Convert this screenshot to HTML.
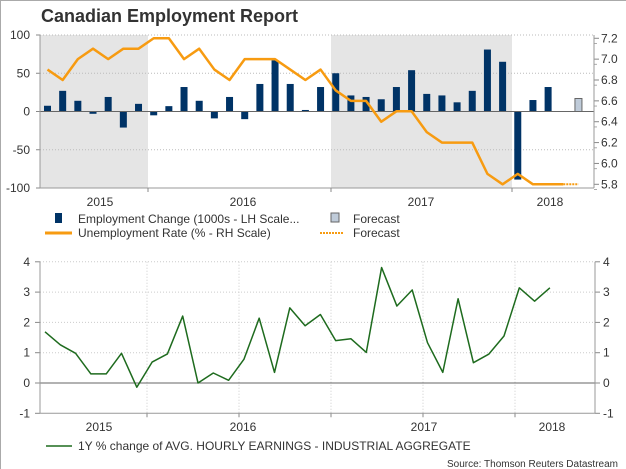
<!DOCTYPE html>
<html><head><meta charset="utf-8"><style>
body{margin:0;background:#fff}
svg{display:block;font-family:"Liberation Sans",Arial,sans-serif}
</style></head><body>
<svg id="c" width="626" height="469" viewBox="0 0 626 469">
<rect x="0" y="0" width="626" height="469" fill="#fff"/>
<line x1="0.5" y1="0" x2="0.5" y2="469" stroke="#aaa"/>
<line x1="0" y1="0.5" x2="626" y2="0.5" stroke="#aaa"/>
<text x="41" y="22" font-size="18" font-weight="bold" fill="#333">Canadian Employment Report</text>
<g id="topg"></g>
<g id="botg"></g>
<g>
<rect x="55" y="213" width="7" height="10" fill="#003366"/>
<text x="78" y="223" font-size="12" fill="#333">Employment Change (1000s - LH Scale...</text>
<rect x="331" y="213" width="8" height="9" fill="#bfcbd9" stroke="#666"/>
<text x="353" y="223" font-size="12" fill="#333">Forecast</text>
<line x1="45" y1="233" x2="72" y2="233" stroke="#f79b11" stroke-width="3"/>
<text x="78" y="237" font-size="12" fill="#333">Unemployment Rate (% - RH Scale)</text>
<line x1="320" y1="233" x2="343" y2="233" stroke="#f79b11" stroke-width="2" stroke-dasharray="2,1"/>
<text x="353" y="237" font-size="12" fill="#333">Forecast</text>
</g>
<g>
<line x1="46" y1="446" x2="72" y2="446" stroke="#1e6b1e" stroke-width="1.5"/>
<text x="78" y="450" font-size="12" fill="#333">1Y % change of AVG. HOURLY EARNINGS - INDUSTRIAL AGGREGATE</text>
</g>
<text x="618" y="467" font-size="10" fill="#333" text-anchor="end">Source: Thomson Reuters Datastream</text>
</svg>
<script>
const employment=[7.5,27,14,-3,19,-21,10,-5,7,32,14,-9,19,-10,36,67,36,2,32,50,21,19,16,32,54,23,21,12,27,81,65,-89,15,32,null];
const forecastIndex=35;
const forecastValue=17;
const unemployment=[6.9,6.8,7.0,7.1,7.0,7.1,7.1,7.2,7.2,7.0,7.1,6.9,6.8,7.0,7.0,7.0,6.9,6.8,6.9,6.7,6.6,6.6,6.4,6.5,6.5,6.3,6.2,6.2,6.2,5.9,5.8,5.9,5.8,5.8,5.8];
const unemploymentForecast=[5.8,5.8];
const earnings=[1.69,1.26,0.98,0.30,0.30,0.98,-0.14,0.69,0.96,2.21,0,0.33,0.09,0.78,2.14,0.35,2.48,1.89,2.26,1.40,1.46,1.01,3.81,2.54,3.07,1.33,0.35,2.78,0.67,0.95,1.55,3.14,2.70,3.14];
const leftTicks=[100,50,0,-50,-100];
const rightTicks=[7.2,7.0,6.8,6.6,6.4,6.2,6.0,5.8];
const botTicks=[4,3,2,1,0,-1];
const yearLabels=["2015","2016","2017","2018"];

const NS="http://www.w3.org/2000/svg";
function mk(p,t,a){const e=document.createElementNS(NS,t);for(const k in a)e.setAttribute(k,a[k]);p.appendChild(e);return e;}
const topG=document.getElementById('topg'),botG=document.getElementById('botg');
const xT=i=>47.5+15.17*i;
const yL=v=>111.5-v*0.765;
const yR=v=>184.3-(v-5.8)*104.3;
const xB=i=>45+15.3*i;
const yB=v=>383-v*30.3;
const X0=40,X1=594;
[[40,148],[331,512]].forEach(s=>{const r=mk(topG,'rect',{x:s[0],y:35,width:s[1]-s[0],height:153,fill:'#e5e5e5'});

});
leftTicks.forEach(v=>{
 if(v!==0&&v!==-100){const g=mk(topG,'line',{x1:X0,x2:X1,y1:yL(v),y2:yL(v),stroke:'#bbb','stroke-dasharray':'1,2'});
 
 }
 const t=mk(topG,'text',{x:30,y:yL(v)+4,'font-size':12,fill:'#333','text-anchor':'end'});t.textContent=v;
 
 
 mk(topG,'line',{x1:36,x2:40,y1:yL(v),y2:yL(v),stroke:'#888'});
});
rightTicks.forEach(v=>{
 const t=mk(topG,'text',{x:601,y:yR(v)+4,'font-size':12,fill:'#333'});t.textContent=v.toFixed(1);
 
 
 mk(topG,'line',{x1:594,x2:599,y1:yR(v),y2:yR(v),stroke:'#888'});
 mk(topG,'line',{x1:594,x2:597,y1:yR(v)+5.2,y2:yR(v)+5.2,stroke:'#aaa'});
});
employment.forEach((v,i)=>{if(v===null)return;
 const b=mk(topG,'rect',{x:xT(i)-3.5,y:Math.min(yL(v),yL(0)),width:7,height:Math.abs(yL(v)-yL(0)),fill:'#003366'});
 
 
});
const fb=mk(topG,'rect',{x:xT(forecastIndex)-3.5,y:yL(forecastValue),width:7,height:yL(0)-yL(forecastValue),fill:'#bfcbd9',stroke:'#666'});


mk(topG,'line',{x1:X0,x2:X1,y1:yL(0),y2:yL(0),stroke:'#666'});
mk(topG,'line',{x1:X0,x2:X0,y1:35,y2:188,stroke:'#999'});
mk(topG,'line',{x1:X1,x2:X1,y1:35,y2:188,stroke:'#999'});
mk(topG,'line',{x1:X0,x2:X1,y1:188,y2:188,stroke:'#999'});
[148,331,512].forEach(x=>mk(topG,'line',{x1:x,x2:x,y1:188,y2:192,stroke:'#888'}));
const ul=mk(topG,'polyline',{points:unemployment.map((v,i)=>xT(i)+','+yR(v)).join(' '),fill:'none',stroke:'#f79b11','stroke-width':2.5,'stroke-linejoin':'round'});


const uf=mk(topG,'polyline',{points:unemploymentForecast.map((v,i)=>xT(unemployment.length-1+i)+','+yR(v)).join(' '),fill:'none',stroke:'#f79b11','stroke-width':2,'stroke-dasharray':'2,1'});


yearLabels.forEach((y,k)=>{const t=mk(topG,'text',{x:[100,243,421,550][k],y:206,'font-size':12,fill:'#333','text-anchor':'middle'});t.textContent=y;
 
 });
const BX0=40,BX1=595;
botTicks.forEach(v=>{
 if(v>0){const g=mk(botG,'line',{x1:BX0,x2:BX1,y1:yB(v),y2:yB(v),stroke:'#ccc','stroke-dasharray':'1,2'});
 
 }
 const t=mk(botG,'text',{x:30,y:yB(v)+4,'font-size':12,fill:'#333','text-anchor':'end'});t.textContent=v;
 
 
 const t2=mk(botG,'text',{x:603,y:yB(v)+4,'font-size':12,fill:'#333'});t2.textContent=v;
 
 
 mk(botG,'line',{x1:35,x2:40,y1:yB(v),y2:yB(v),stroke:'#888'});
 mk(botG,'line',{x1:595,x2:600,y1:yB(v),y2:yB(v),stroke:'#888'});
});
[147,239,331,423,515].forEach(x=>{mk(botG,'line',{x1:x,x2:x,y1:yB(4),y2:yB(-1),stroke:'#ccc','stroke-dasharray':'1,2'});
 mk(botG,'line',{x1:x,x2:x,y1:yB(-1),y2:yB(-1)+4,stroke:'#888'});});
mk(botG,'line',{x1:BX0,x2:BX1,y1:yB(0),y2:yB(0),stroke:'#666'});
mk(botG,'line',{x1:BX0,x2:BX0,y1:yB(4),y2:yB(-1),stroke:'#999'});
mk(botG,'line',{x1:BX1,x2:BX1,y1:yB(4),y2:yB(-1),stroke:'#999'});
mk(botG,'line',{x1:BX0,x2:BX1,y1:yB(-1),y2:yB(-1),stroke:'#999'});
const gl=mk(botG,'polyline',{points:earnings.map((v,i)=>xB(i)+','+yB(v)).join(' '),fill:'none',stroke:'#1e6b1e','stroke-width':1.5,'stroke-linejoin':'round'});


yearLabels.forEach((y,k)=>{const t=mk(botG,'text',{x:[99,243,424,552][k],y:431,'font-size':12,fill:'#333','text-anchor':'middle'});t.textContent=y;
 
 });
</script>
</body></html>
